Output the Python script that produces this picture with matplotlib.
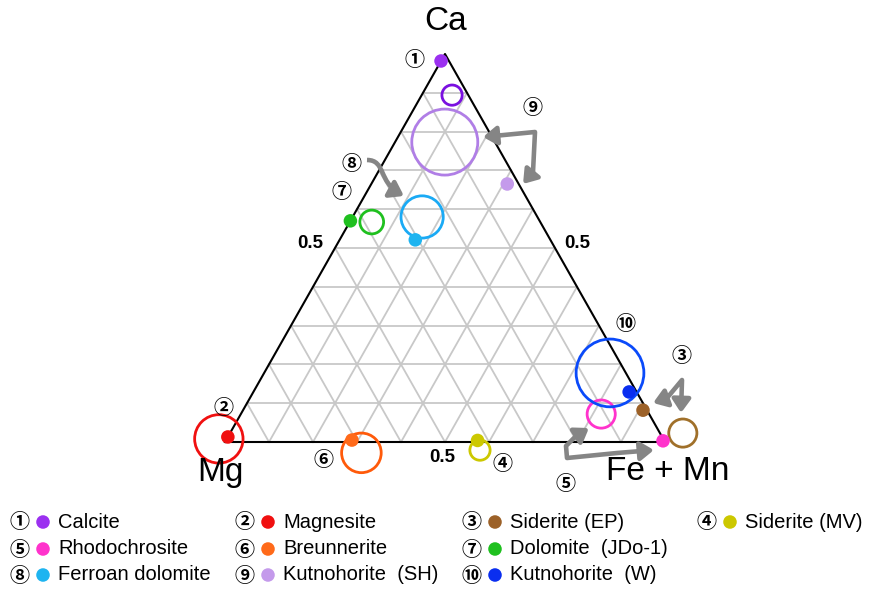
import numpy as np
import matplotlib
matplotlib.use("Agg")
import matplotlib.pyplot as plt
from matplotlib.patches import Ellipse, FancyArrowPatch
from matplotlib.path import Path
from matplotlib.transforms import Affine2D

plt.rcParams['font.family'] = ['Liberation Sans', 'Noto Sans CJK JP', 'DejaVu Sans']

# ---- compositions (mole fractions Ca / Fe+Mn, Mg is the rest) ----
tags = ['①', '②', '③', '④', '⑤', '⑥', '⑦', '⑧', '⑨', '⑩']
names = ['Calcite', 'Magnesite', 'Siderite (EP)', 'Siderite (MV)', 'Rhodochrosite',
         'Breunnerite', 'Dolomite  (JDo-1)', 'Ferroan dolomite', 'Kutnohorite  (SH)',
         'Kutnohorite  (W)']
colors = ['#9B30F0', '#F01010', '#9C6128', '#CCC800', '#FF33CC',
          '#FF6A1A', '#1FC01F', '#1EB4F0', '#C49AEB', '#0A2EF0']
ring_colors = ['#7A10E0', '#F01010', '#A0702A', '#CCC800', '#FF33CC',
               '#FF5A0A', '#1FC01F', '#1AAAF5', '#B07EE6', '#0A4AFA']

# measured points
dot_ca = [0.982, 0.013, 0.082, 0.004, 0.003, 0.005, 0.570, 0.521, 0.665, 0.129]
dot_fe = [0.000, 0.000, 0.909, 0.572, 0.994, 0.286, 0.000, 0.172, 0.309, 0.854]

# reference compositions and their spread
ring_ca = [0.894, 0.008, 0.023, -0.021, 0.072, -0.028, 0.567, 0.580, 0.773, 0.178]
ring_fe = [0.069, -0.018, 1.029, 0.590, 0.819, 0.324, 0.050, 0.158, 0.113, 0.786]
ring_r = [0.023, 0.055, 0.032, 0.023, 0.032, 0.045, 0.027, 0.048, 0.075, 0.077]

# x along the Mg -> Fe+Mn base, y = Ca
def tern(ca, fe):
    ca = np.asarray(ca)
    fe = np.asarray(fe)
    return fe + ca / 2.0, ca

W, H = 872, 590
fig = plt.figure(figsize=(W / 100, H / 100), dpi=100)
ax = fig.add_axes([0, 0, 1, 1])
ax.set_xlim(-225 / 440, (W - 225) / 440)
ax.set_ylim(-(H - 442) / 388, 1 + 54 / 388)
ax.axis('off')
yscale = 440 / 388  # y units are stretched relative to x units

# pixel-space helper for labels and arrows
pix = Affine2D().scale(1 / W, -1 / H).translate(0, 1) + fig.transFigure

# grid
for k in np.arange(1, 10) / 10:
    # constant Ca
    x, y = tern([k, k], [0, 1 - k])
    ax.plot(x, y, color='#c8c8c8', lw=1.3, zorder=1)
    # constant Fe
    x, y = tern([0, 1 - k], [k, k])
    ax.plot(x, y, color='#c8c8c8', lw=1.3, zorder=1)
    # constant Mg
    x, y = tern([0, 1 - k], [1 - k, 0])
    ax.plot(x, y, color='#c8c8c8', lw=1.3, zorder=1)

x, y = tern([0, 1, 0, 0], [0, 0, 1, 0])
ax.plot(x, y, color='black', lw=1.5, zorder=2)

# reference rings
rx, ry = tern(ring_ca, ring_fe)
for i in range(len(tags)):
    ax.add_patch(Ellipse((rx[i], ry[i]), 2 * ring_r[i], 2 * ring_r[i] * yscale,
                         fill=False, ec=ring_colors[i], lw=2.0, zorder=3))

# measured dots
dx, dy = tern(dot_ca, dot_fe)
ax.scatter(dx, dy, s=95, c=colors, edgecolors='none', zorder=4)

# corner and axis labels
ax.text(446, 21, 'Ca', transform=pix, fontsize=24, ha='center', va='center')
ax.text(220, 472, 'Mg', transform=pix, fontsize=24, ha='center', va='center')
ax.text(668, 472, 'Fe + Mn', transform=pix, fontsize=24, ha='center', va='center')
for px, py in [(310, 244), (577, 243), (442, 458)]:
    ax.text(px, py, '0.5', transform=pix, fontsize=13.5, fontweight='bold',
            ha='center', va='center')

# number tags next to the points
tag_font = dict(family=['Noto Sans CJK JP', 'DejaVu Sans'], fontweight='bold',
                fontsize=14.5, ha='center', va='center')
tag_pos = [(415, 59), (224, 407), (682, 356), (503, 464), (566, 483),
           (324, 460), (342, 192), (352, 163), (533, 107), (626, 324)]
for t, (px, py) in zip(tags, tag_pos):
    ax.text(px, py, t, transform=pix, **tag_font)

# grey arrows
def arrow(pts, codes, style):
    p = FancyArrowPatch(path=Path(pts, codes), arrowstyle=style, transform=pix,
                        color='#858585', lw=3.3, mutation_scale=1, zorder=5,
                        joinstyle='round', capstyle='butt')
    fig.add_artist(p)

M, L, C = Path.MOVETO, Path.LINETO, Path.CURVE4
head = 'head_length=8,head_width=5.5'
arrow([(483, 137), (535, 132), (533, 172), (523, 184)], [M, L, L, L],
      '<|-|>,' + head)
arrow([(367, 160), (386, 160), (378, 182), (404, 196)], [M, C, C, C],
      '-|>,' + head)
arrow([(653, 403), (667, 398), (682, 380), (681, 413)], [M, L, L, L],
      '<|-|>,' + head)
arrow([(589, 428), (575, 437), (566, 446), (567, 458), (617, 453), (654, 450)],
      [M, L, L, L, L, L], '<|-|>,' + head)

# legend
cols = [20, 245, 472, 707]
rows = [522, 549, 575]
order = [[0, 1, 2, 3], [4, 5, 6], [7, 8, 9]]
for r, idx in zip(rows, order):
    for c, i in zip(cols, idx):
        ax.text(c, r, tags[i], transform=pix, **tag_font)
        ax.scatter([c + 23], [r], s=95, color=colors[i], transform=pix,
                   edgecolors='none', clip_on=False)
        ax.text(c + 38, r, names[i], transform=pix, fontsize=14.5, ha='left',
                va='center')

fig.savefig('out.png', dpi=100)
